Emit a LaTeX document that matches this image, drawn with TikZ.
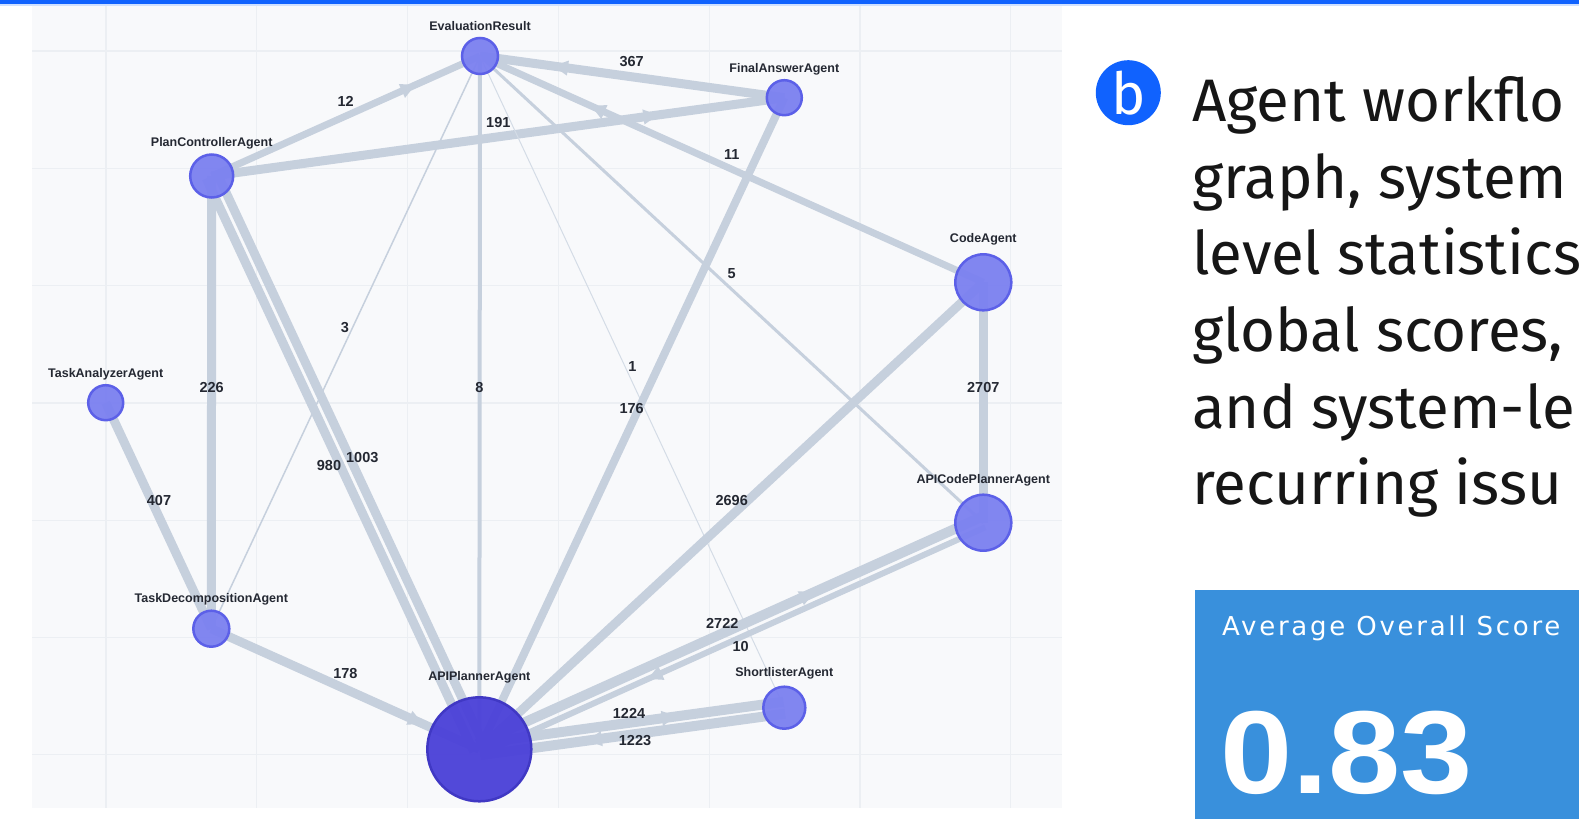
\documentclass[tikz,border=0pt]{standalone}
\usepackage{fontspec}
\setmainfont{Liberation Sans}
\newfontfamily\headfont{Fira Sans}
\newfontfamily\scorefont[LetterSpace=10.5]{DejaVu Sans}
\newfontfamily\scoredigits[FakeStretch=1.1]{Liberation Sans Bold}
\usepackage{tikz}
\usetikzlibrary{arrows.meta,calc,positioning,decorations.markings}
\definecolor{panelbg}{RGB}{248,249,251}
\definecolor{gridline}{RGB}{236,239,243}
\definecolor{edgegray}{RGB}{198,208,221}
\definecolor{agentfill}{RGB}{123,128,240}
\definecolor{agentrim}{RGB}{92,96,232}
\definecolor{plannerfill}{RGB}{74,64,216}
\definecolor{plannerrim}{RGB}{64,56,196}
\definecolor{labeltext}{RGB}{36,40,50}
\definecolor{ibmblue}{RGB}{16,98,254}
\definecolor{scorecard}{RGB}{57,144,220}
\definecolor{headtext}{RGB}{22,22,22}
\pgfdeclarelayer{bg}
\pgfdeclarelayer{edges}
\pgfsetlayers{bg,edges,main}
% name, x, y, diameter, label gap, label, style
\newcommand{\agentnode}[7]{%
  \node[#7,minimum size=#4] (#1) at (#2,#3) {};%
  \node[agentlbl] (#1lbl) at ([yshift=#5pt]#1.north) {#6};%
}

\begin{document}
\begin{tikzpicture}[x=1pt,y=-1pt,
  agent/.style={circle,inner sep=0pt,outer sep=0pt,line width=2.5pt,draw=agentrim,fill=agentfill,fill opacity=0.95},
  planner/.style={agent,draw=plannerrim,fill=plannerfill},
  agentlbl/.style={anchor=base,inner sep=0pt,text=labeltext,font=\bfseries\fontsize{12.5}{14}\selectfont},
  edgelbl/.style={inner sep=0pt,text=labeltext,font=\bfseries\fontsize{14.5}{16}\selectfont},
  flow/.style={draw=edgegray},
  midarrow/.style={postaction={decorate},decoration={markings,mark=at position #1 with {\arrow[edgegray]{Triangle[length=15pt,width=14pt]}}}},
  headline/.style={anchor=base west,inner sep=0pt,text=headtext,font=\headfont\fontsize{60}{68}\selectfont}]
  \useasboundingbox (0,0) rectangle (1579,819);

  \begin{pgfonlayer}{bg}
    \fill[white] (0,0) rectangle (1579,819);
    \fill[ibmblue] (0,0) rectangle (1579,4);
    \fill[ibmblue!20] (0,4) rectangle (1579,6);
    \fill[panelbg] (32,6) rectangle (1062,808);
    \foreach \k in {0,...,6} {
      \draw[gridline,line width=1.2pt] ({106+150.8*\k},6) -- ++(0,802);
      \draw[gridline,line width=1.2pt] (32,{51+117.3*\k}) -- (1062,{51+117.3*\k});
    }
  \end{pgfonlayer}

  % agents
  \agentnode{er}{480}{56}{36}{7.5}{EvaluationResult}{agent}
  \agentnode{pc}{211.7}{176}{43}{8.3}{PlanControllerAgent}{agent}
  \agentnode{fa}{784.3}{97.7}{35}{8}{FinalAnswerAgent}{agent}
  \agentnode{ca}{983.3}{282.3}{56}{11.5}{CodeAgent}{agent}
  \agentnode{acp}{983.3}{522.7}{56}{10.9}{APICodePlannerAgent}{agent}
  \agentnode{ta}{105.7}{402.7}{35}{8}{TaskAnalyzerAgent}{agent}
  \agentnode{td}{211.3}{628.7}{36}{7.9}{TaskDecompositionAgent}{agent}
  \agentnode{ap}{479.3}{749.3}{104}{16.8}{APIPlannerAgent}{planner}
  \agentnode{sl}{784.3}{707.7}{42}{9.9}{ShortlisterAgent}{agent}

  % connectors
  \begin{pgfonlayer}{edges}
    \draw[flow,line width=7pt,midarrow=0.76] (pc.center) -- (er.center);
    \draw[flow,line width=9pt,midarrow=0.78] (pc.center) -- (fa.center);
    \draw[flow,line width=9pt,midarrow=0.76] (fa.center) -- (er.center);
    \draw[flow,line width=7pt,midarrow=0.78] (ca.center) -- (er.center);
    \draw[flow,line width=3pt] (er.center) -- (acp.center);
    \draw[flow,line width=1.5pt] (er.center) -- (td.center);
    \draw[flow,line width=4pt] (er.center) -- (ap.center);
    \draw[flow,line width=1pt,draw=edgegray!75] (er.center) -- (sl.center);
    \draw[flow,line width=8pt] (fa.center) -- (ap.center);
    \draw[flow,line width=9pt] (ca.center) -- (ap.center);
    \draw[flow,line width=9pt] (ca.center) -- (acp.center);
    \draw[flow,line width=9pt] (pc.center) -- (td.center);
    \draw[flow,line width=9pt] (ta.center) -- (td.center);
    \draw[flow,line width=9pt] ($(pc.center)!6pt!-90:(ap.center)$) -- ($(ap.center)!6pt!90:(pc.center)$);
    \draw[flow,line width=9pt] ($(pc.center)!6pt!90:(ap.center)$) -- ($(ap.center)!6pt!-90:(pc.center)$);
    \draw[flow,line width=9pt,midarrow=0.79] (td.center) -- (ap.center);
    \draw[flow,line width=10pt,midarrow=0.65] ($(ap.center)!6pt!90:(sl.center)$) -- ($(sl.center)!6pt!-90:(ap.center)$);
    \draw[flow,line width=10pt,midarrow=0.65] ($(sl.center)!6pt!90:(ap.center)$) -- ($(ap.center)!6pt!-90:(sl.center)$);
    \draw[flow,line width=10pt,midarrow=0.67] ($(ap.center)!6pt!90:(acp.center)$) -- ($(acp.center)!6pt!-90:(ap.center)$);
    \draw[flow,line width=6pt,midarrow=0.67] ($(acp.center)!5pt!90:(ap.center)$) -- ($(ap.center)!5pt!-90:(acp.center)$);
  \end{pgfonlayer}

  % counts
  \node[edgelbl] (n12) at (345.7,101) {12};
  \node[edgelbl] (n191) at (498.3,122.7) {191};
  \node[edgelbl] (n367) at (631.7,61.7) {367};
  \node[edgelbl] (n11) at (731.7,155) {11};
  \node[edgelbl] (n5) at (731.7,274) {5};
  \node[edgelbl] (n3) at (345,327.7) {3};
  \node[edgelbl] (n8) at (479.3,387.7) {8};
  \node[edgelbl] (n1) at (632.3,366.7) {1};
  \node[edgelbl] (n176) at (631.7,409) {176};
  \node[edgelbl] (n2696) at (731.7,501) {2696};
  \node[edgelbl] (n2707) at (983.3,387.3) {2707};
  \node[edgelbl] (n226) at (211.7,387.7) {226};
  \node[edgelbl] (n407) at (159,501) {407};
  \node[edgelbl] (n980) at (329,466) {980};
  \node[edgelbl] (n1003) at (362.3,457.7) {1003};
  \node[edgelbl] (n178) at (345.4,673.7) {178};
  \node[edgelbl] (n1224) at (629,713.3) {1224};
  \node[edgelbl] (n1223) at (635,741) {1223};
  \node[edgelbl] (n2722) at (722.3,623.3) {2722};
  \node[edgelbl] (n10) at (740.7,646.7) {10};

  % caption side
  \node[circle,inner sep=0pt,minimum size=65pt,fill=ibmblue,text=white,
        font=\headfont\fontsize{58}{60}\selectfont] (badge) at (1128.3,92.7) {b};
  \foreach \txt [count=\i from 0] in {Agent workflo,{graph, system},level statistics,{global scores,},and system-le,recurring issu}
    \node[headline] (head\i) at (1192,{121.7+76.6*\i}) {\txt};

  % score card
  \fill[scorecard] (1195,590) rectangle (1579,819);
  \node[anchor=base west,inner sep=0pt,text=white,font=\scorefont\fontsize{26}{28}\selectfont] (scoretitle) at (1222,635) {Average Overall Score};
  \node[anchor=base west,inner sep=0pt,text=white,font=\scoredigits\fontsize{118}{120}\selectfont] (scoreval) at (1220,793) {0.83};
\end{tikzpicture}
\end{document}
